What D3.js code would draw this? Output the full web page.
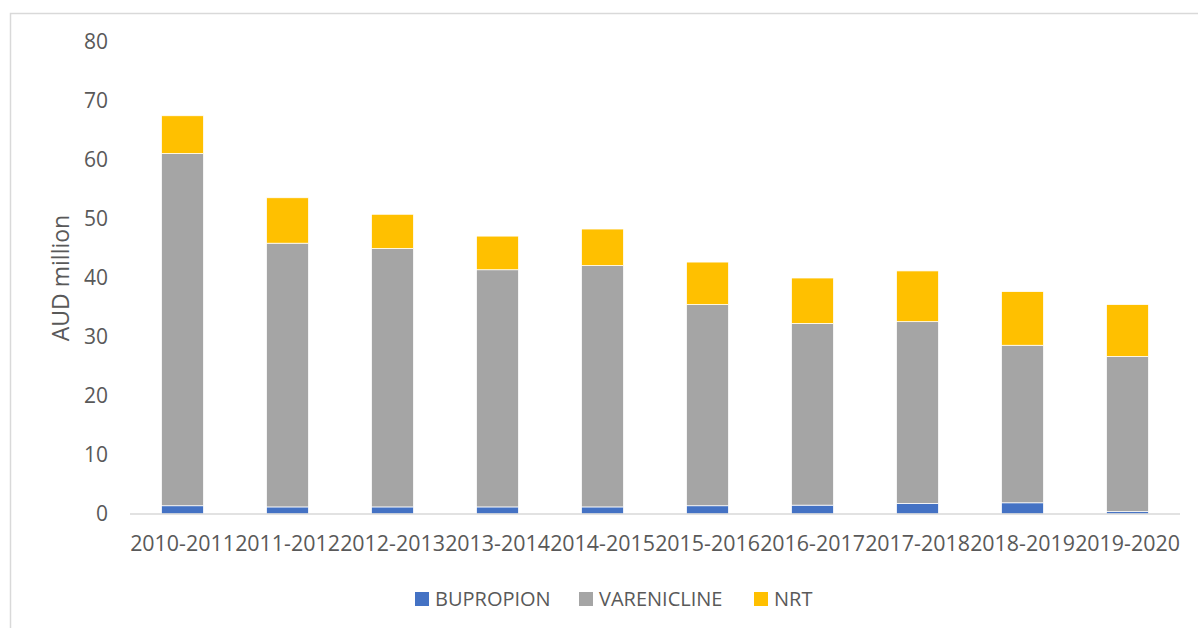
<!DOCTYPE html>
<html>
<head>
<meta charset="utf-8">
<script src="https://cdn.jsdelivr.net/npm/d3@7"></script>
<style>
  body { margin: 0; background: #fff; }
  svg { display: block; font-family: "Open Sans", sans-serif; }
</style>
</head>
<body>
<svg width="1198" height="628"></svg>
<script>
const years = ['2010-2011', '2011-2012', '2012-2013', '2013-2014', '2014-2015',
  '2015-2016', '2016-2017', '2017-2018', '2018-2019', '2019-2020']
const bupropion = [1.4, 1.2, 1.2, 1.2, 1.2, 1.4, 1.5, 1.8, 1.9, 0.4]
const varenicline = [59.7, 44.7, 43.8, 40.2, 40.9, 34.1, 30.8, 30.8, 26.7, 26.3]
const nrt = [6.4, 7.7, 5.8, 5.7, 6.2, 7.2, 7.7, 8.6, 9.1, 8.8]
const yTicks = [0, 10, 20, 30, 40, 50, 60, 70, 80]

const seriesNames = ['BUPROPION', 'VARENICLINE', 'NRT']
const colors = ['#4472c4', '#a5a5a5', '#ffc000']

const svg = d3.select('svg')

// chart frame (only top and left edge show in the picture)
svg.append('rect')
  .attr('x', 10.5).attr('y', 13.5)
  .attr('width', 1300).attr('height', 700)
  .attr('fill', 'none').attr('stroke', '#d9d9d9').attr('stroke-width', 1.5)

const x = d3.scaleBand()
  .domain(years)
  .range([130, 1180])
  .paddingInner(0.6)
  .paddingOuter(0.3)

const y = d3.scaleLinear()
  .domain([0, 80])
  .range([514, 42])

const rows = years.map((yr, i) => ({
  year: yr, BUPROPION: bupropion[i], VARENICLINE: varenicline[i], NRT: nrt[i]
}))
const stacked = d3.stack().keys(seriesNames)(rows)

svg.append('g')
  .selectAll('g')
  .data(stacked)
  .join('g')
    .attr('fill', (d, i) => colors[i])
  .selectAll('rect')
  .data(d => d)
  .join('rect')
    .attr('x', d => x(d.data.year))
    .attr('y', d => y(d[1]))
    .attr('width', x.bandwidth())
    .attr('height', d => y(d[0]) - y(d[1]))
    .attr('stroke', '#fff')
    .attr('stroke-width', 0.75)

// y axis labels, no line
const yAxis = svg.append('g')
  .attr('transform', 'translate(108,0)')
  .call(d3.axisLeft(y).tickValues(yTicks).tickSize(0).tickPadding(0))
yAxis.select('.domain').remove()
yAxis.selectAll('text')
  .attr('fill', '#595959')
  .style('font-size', '21px')
  .style('font-family', '"Open Sans", sans-serif')

// x axis
const xAxis = svg.append('g')
  .attr('transform', 'translate(0,514)')
  .call(d3.axisBottom(x).tickSize(0).tickPadding(22))
xAxis.select('.domain')
  .attr('stroke', '#d9d9d9')
  .attr('stroke-width', 1.5)
  .attr('d', 'M130,0H1180')
xAxis.selectAll('text')
  .attr('fill', '#595959')
  .style('font-size', '21.4px')
  .style('font-family', '"Open Sans", sans-serif')

// y axis title
svg.append('text')
  .attr('transform', 'translate(69,278) rotate(-90)')
  .attr('text-anchor', 'middle')
  .attr('fill', '#595959')
  .style('font-size', '23px')
  .text('AUD million')

// legend
const legendX = [415, 579, 754]
const legend = svg.append('g')
  .selectAll('g')
  .data(seriesNames)
  .join('g')
    .attr('transform', (d, i) => `translate(${legendX[i]},592)`)
legend.append('rect')
  .attr('width', 14).attr('height', 14)
  .attr('fill', (d, i) => colors[i])
legend.append('text')
  .attr('x', 20).attr('y', 14)
  .attr('fill', '#595959')
  .style('font-size', '20px')
  .text(d => d)
</script>
</body>
</html>
